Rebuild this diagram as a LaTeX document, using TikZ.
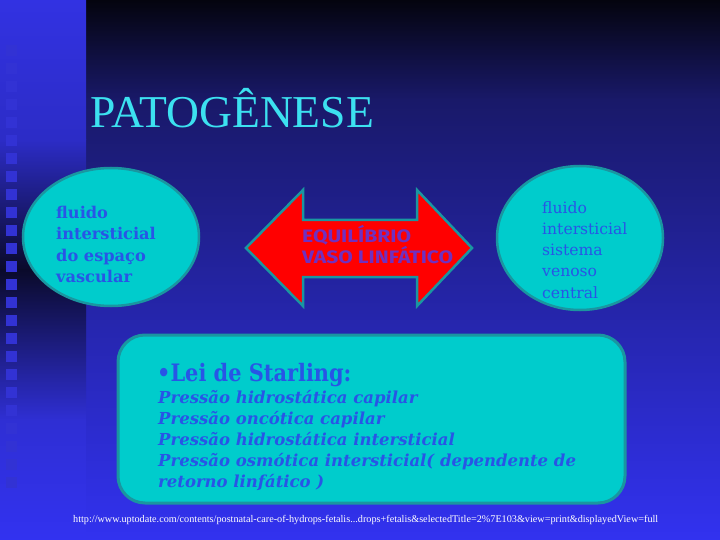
\documentclass[tikz,border=0pt]{standalone}
\usepackage{fontspec}
\usepackage{graphicx}
\setmainfont{Liberation Serif}
\newfontfamily\djserif{DejaVu Serif}
\newfontfamily\djcond[FakeStretch=0.87]{DejaVu Serif}
\newfontfamily\firasans[FakeStretch=1.17]{Fira Sans}
\usetikzlibrary{shapes.geometric}
\definecolor{tealfill}{RGB}{0,204,204}
\definecolor{tealline}{RGB}{26,150,160}
\definecolor{txtblue}{RGB}{40,85,230}
\definecolor{titlecyan}{RGB}{60,225,240}
\definecolor{arrowred}{RGB}{255,0,0}
\definecolor{arrowtxt}{RGB}{112,48,192}
\definecolor{bgtop}{RGB}{4,4,14}
\definecolor{bgmid}{RGB}{25,25,105}
\definecolor{bgbot}{RGB}{50,50,240}
\definecolor{striptop}{RGB}{50,50,226}
\definecolor{stripdark}{RGB}{10,10,42}
\definecolor{sqcol}{RGB}{50,50,212}
\tikzset{
  tealshape/.style={fill=tealfill, draw=tealline, line width=2.5pt, inner sep=0pt},
  eltext/.style={anchor=base west, inner sep=0pt, text=txtblue},
  arrtext/.style={anchor=base west, inner sep=0pt, text=arrowtxt, font=\firasans\bfseries\fontsize{18}{21}\selectfont},
  sqbox/.style={fill=sqcol, draw=none}
}
\begin{document}
\begin{tikzpicture}[x=1pt,y=-1pt]
\useasboundingbox (0,0) rectangle (720,540);
% background
\fill[top color=bgtop, bottom color=bgmid] (86,0) rectangle (720,100);
\fill[top color=bgmid, bottom color=bgbot] (86,99.5) rectangle (720,540);
\fill[top color=striptop, bottom color=striptop!85!stripdark] (0,0) rectangle (86,140);
\fill[top color=striptop!85!stripdark, bottom color=stripdark] (0,139.5) rectangle (86,270);
\fill[top color=stripdark, bottom color=striptop!92!stripdark] (0,269.5) rectangle (86,420);
\fill[top color=striptop!92!stripdark, bottom color=bgbot] (0,419.5) rectangle (86,540);
\foreach \i in {0,...,24}{
  \fill[sqbox] (6,45+18*\i) rectangle (17,56+18*\i);
}
% title
\node[anchor=base west, inner sep=0pt, text=titlecyan, font=\fontsize{45.6}{50}\selectfont] (title) at (90,128) {PATOGÊNESE};
% left ellipse
\node[tealshape, ellipse, minimum width=176, minimum height=138] (lell) at (111,237) {};
\foreach \t [count=\k] in {fluido,intersticial,do espaço,vascular}{
  \node[eltext, font=\djserif\bfseries\fontsize{16.2}{21}\selectfont] (lt\k) at (56,196.5+21.6*\k) {\t};
}
% right ellipse
\node[tealshape, ellipse, minimum width=166, minimum height=144] (rell) at (580,238) {};
\foreach \t [count=\k] in {fluido,intersticial,sistema,venoso,central}{
  \node[eltext, font=\djserif\fontsize{15.6}{21}\selectfont] (rt\k) at (542,192+21.2*\k) {\t};
}
% double arrow
\draw[fill=arrowred, draw=tealline, line width=2.5pt, line join=miter]
  (246,248) -- (303,190) -- (303,220) -- (417,220) -- (417,190) -- (472,248)
  -- (417,306) -- (417,277) -- (303,277) -- (303,306) -- cycle;
\node[arrtext] (eq) at (302,242) {EQUILÍBRIO};
\node[arrtext] (vl) at (302,263) {VASO LINFÁTICO};
% box
\node[tealshape, line width=3pt, rectangle, rounded corners=27pt, minimum width=507, minimum height=168] (box) at (371.5,419) {};
\node[eltext, font=\djcond\bfseries\fontsize{24}{26}\selectfont] (lei) at (157,381) {•Lei de Starling:};
\foreach \t [count=\k] in {Pressão hidrostática capilar,Pressão oncótica capilar,Pressão hidrostática intersticial,Pressão osmótica intersticial( dependente de,retorno linfático )}{
  \node[eltext, font=\djserif\bfseries\itshape\fontsize{16.5}{21}\selectfont] (p\k) at (158,382+21*\k) {\t};
}
% url
\node[anchor=base west, inner sep=0pt, text=white] (url) at (73,522) {\resizebox{585pt}{!}{\fontsize{9}{10}\selectfont http://www.uptodate.com/contents/postnatal-care-of-hydrops-fetalis...drops+fetalis\&selectedTitle=2\%7E103\&view=print\&displayedView=full}};
\end{tikzpicture}
\end{document}
